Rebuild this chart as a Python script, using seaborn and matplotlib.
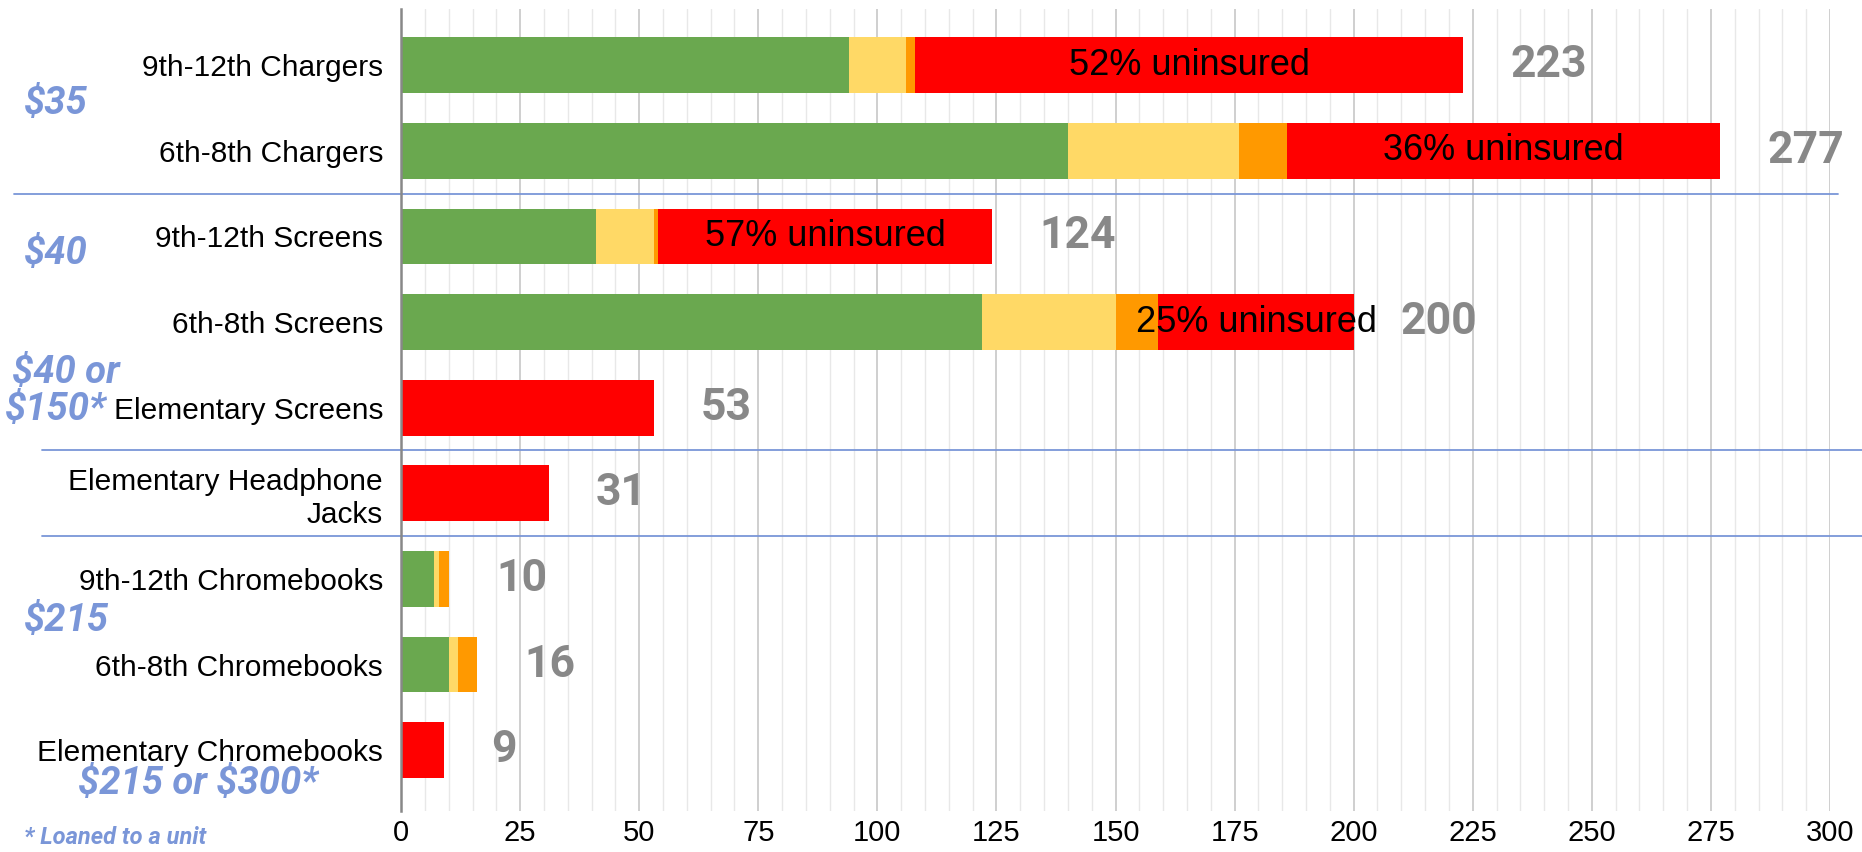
import pandas as pd
import matplotlib
matplotlib.use("Agg")
import matplotlib.pyplot as plt
from matplotlib.ticker import MultipleLocator
import seaborn as sns

# --- data ---
categories = ["9th-12th Chargers", "6th-8th Chargers", "9th-12th Screens",
              "6th-8th Screens", "Elementary Screens",
              "Elementary Headphone\nJacks", "9th-12th Chromebooks",
              "6th-8th Chromebooks", "Elementary Chromebooks"]
green = [94, 140, 41, 122, 0, 0, 7, 10, 0]
yellow = [12, 36, 12, 28, 0, 0, 1, 2, 0]
orange = [2, 10, 1, 9, 0, 0, 2, 4, 0]
red = [115, 91, 70, 41, 53, 31, 0, 0, 9]
uninsured_labels = ["52% uninsured", "36% uninsured", "57% uninsured",
                    "25% uninsured", "", "", "", "", ""]

price_labels = ["\\$35", "\\$40", "\\$40 or", "\\$150*", "\\$215",
                "\\$215 or \\$300*"]
price_pos = [(0.0129, 0.879), (0.0129, 0.702), (0.0064, 0.563),
             (0.0027, 0.519), (0.0129, 0.272), (0.0419, 0.080)]
footnote = "* Loaned to a unit"

GREEN, YELLOW, ORANGE, RED = "#6aa84f", "#ffd966", "#ff9900", "#ff0000"
BLUE = "#7a96d8"

df = pd.DataFrame({"cat": categories, "green": green, "yellow": yellow,
                   "orange": orange, "red": red})
df["c1"] = df["green"]
df["c2"] = df["c1"] + df["yellow"]
df["c3"] = df["c2"] + df["orange"]
df["total"] = df["c3"] + df["red"]

sns.set_style("white")
plt.rcParams["font.family"] = ["Liberation Sans", "DejaVu Sans"]

fig = plt.figure(figsize=(18.62, 8.52), dpi=100)
ax = fig.add_axes([0.2154, 0.048, 0.7674, 0.941])

# stacked bars drawn as overlapping cumulative bars
for col, color in [("total", RED), ("c3", ORANGE), ("c2", YELLOW), ("c1", GREEN)]:
    sns.barplot(data=df, x=col, y="cat", order=categories, orient="h",
                color=color, saturation=1, width=0.65, linewidth=0,
                edgecolor="none", ax=ax)

ax.set_xlim(0, 300)
ax.set_ylim(8.71, -0.65)
ax.set_xlabel("")
ax.set_ylabel("")
ax.xaxis.set_major_locator(MultipleLocator(25))
ax.xaxis.set_minor_locator(MultipleLocator(5))
ax.set_axisbelow(True)
ax.grid(which="major", axis="x", color="#cccccc", lw=1.3)
ax.grid(which="minor", axis="x", color="#e8e8e8", lw=1.0)
for s in ["top", "right", "bottom"]:
    ax.spines[s].set_visible(False)
ax.spines["left"].set_color("#888888")
ax.spines["left"].set_linewidth(1.8)
ax.tick_params(axis="x", which="both", length=0, labelsize=21, pad=6,
               labelcolor="black")
ax.tick_params(axis="y", length=0, labelsize=21.5, pad=13, labelcolor="black")

# uninsured labels centred on the red segment, totals to the right
for i, row in df.iterrows():
    if uninsured_labels[i]:
        ax.text((row["c3"] + row["total"]) / 2, i, uninsured_labels[i],
                ha="center", va="center", fontsize=26, color="black")
    ax.annotate(str(row["total"]), (row["total"], i), xytext=(34, 0),
                textcoords="offset points", ha="left", va="center",
                fontsize=32, fontweight="bold", color="#888888",
                family="Roboto")

# group separators
trans = ax.get_yaxis_transform()
ax.plot([-0.271, 1.0056], [1.5, 1.5], color=BLUE, lw=1.3,
        transform=trans, clip_on=False)
for yv in [4.5, 5.5]:
    ax.plot([-0.251, 1.03], [yv, yv], color=BLUE, lw=1.3,
            transform=trans, clip_on=False)

for txt, (x, y) in zip(price_labels, price_pos):
    fig.text(x, y, txt, ha="left", va="center", fontsize=27.5,
             fontweight="bold", style="italic", color=BLUE, family="Roboto")
fig.text(0.0129, 0.003, footnote, ha="left", va="bottom", fontsize=17,
         fontweight="bold", style="italic", color=BLUE, family="Roboto")

fig.savefig("out.png", dpi=100)
